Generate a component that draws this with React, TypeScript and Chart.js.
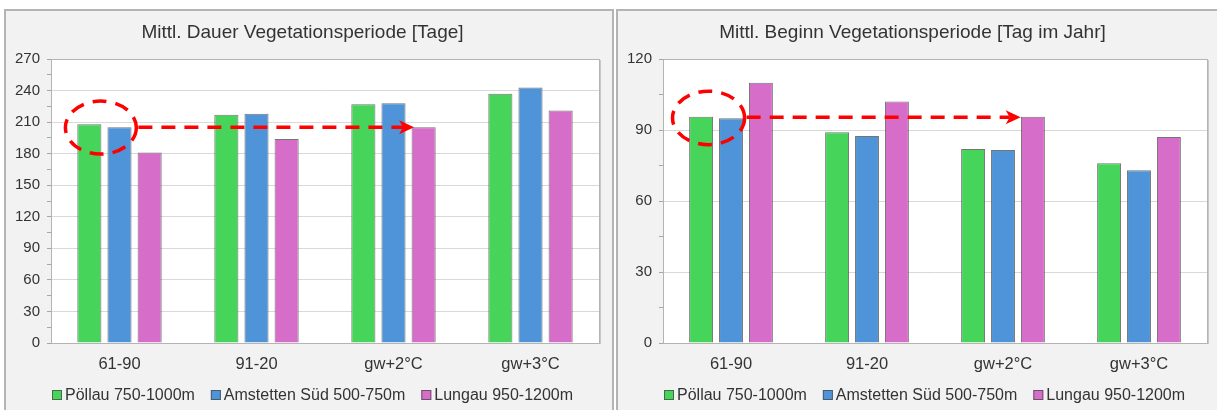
import React, { useEffect, useRef } from "react";
import { Chart, registerables } from "chart.js";

Chart.register(...registerables);

const FONT = "'Liberation Sans', Arial, sans-serif";

const categories = ["61-90", "91-20", "gw+2°C", "gw+3°C"];
const seriesNames = ["Pöllau 750-1000m", "Amstetten Süd 500-750m", "Lungau 950-1200m"];
const seriesColors = ["#47d45a", "#4f94d8", "#d66dc9"];

const dauerPoellau = [208, 217, 227, 237];
const dauerAmstetten = [205, 218, 228, 243];
const dauerLungau = [181, 194, 205, 221];
const dauerAxis = [0, 270, 30];

const beginnPoellau = [95.6, 89, 82, 76];
const beginnAmstetten = [95, 87.5, 81.5, 73];
const beginnLungau = [110, 102, 95.6, 87];
const beginnAxis = [0, 120, 30];

// marker annotations: ellipse [categoryOffset, value, radiusCategories, radiusValue]
const dauerEllipse = [-0.136, 204.8, 0.259, 25.2];
// arrow [fromCategory, toCategory, value]
const dauerArrow = [0.138, 2.15, 205];
const beginnEllipse = [-0.165, 95.1, 0.265, 11.3];
const beginnArrow = [0.115, 2.13, 95.4];

const BORDER = "rgba(70,70,70,0.75)";

const plotBgPlugin = {
  id: "plotBg",
  beforeDraw(chart: any) {
    const { ctx, chartArea: a } = chart;
    ctx.save();
    ctx.fillStyle = "#ffffff";
    ctx.fillRect(a.left, a.top, a.right - a.left, a.bottom - a.top);
    ctx.restore();
  },
  afterDatasetsDraw(chart: any) {
    const { ctx, chartArea: a } = chart;
    ctx.save();
    ctx.strokeStyle = "#b4b4b4";
    ctx.lineWidth = 1;
    ctx.strokeRect(Math.round(a.left) + 0.5, Math.round(a.top) + 0.5, Math.round(a.right - a.left), Math.round(a.bottom - a.top));
    ctx.strokeStyle = "#c8c8c8";
    ctx.beginPath();
    ctx.moveTo(Math.round(a.right) + 1.5, a.top + 1);
    ctx.lineTo(Math.round(a.right) + 1.5, a.bottom + 1);
    ctx.stroke();
    ctx.restore();
  },
};

const legendPlugin = {
  id: "boxLegend",
  afterDraw(chart: any) {
    const { ctx } = chart;
    ctx.save();
    ctx.font = `16px ${FONT}`;
    const items = chart.data.datasets.map((d: any) => ({
      text: d.label as string,
      color: d.backgroundColor as string,
      w: ctx.measureText(d.label).width,
    }));
    const box = 10;
    const gap = 3;
    const sep = 16;
    const total =
      items.reduce((s: number, it: any) => s + box + gap + it.w, 0) + sep * (items.length - 1);
    let x = Math.round(chart.width / 2 + 4 - total / 2);
    const y = chart.height - 16;
    ctx.textBaseline = "middle";
    ctx.textAlign = "left";
    items.forEach((it: any) => {
      ctx.fillStyle = it.color;
      ctx.fillRect(x, Math.round(y - box / 2), box, box);
      ctx.strokeStyle = BORDER;
      ctx.lineWidth = 1;
      ctx.strokeRect(x + 0.5, Math.round(y - box / 2) + 0.5, box - 1, box - 1);
      ctx.fillStyle = "#333333";
      ctx.fillText(it.text, x + box + gap, y + 1);
      x += box + gap + it.w + sep;
    });
    ctx.restore();
  },
};

function makeMarkerPlugin(ellipse: number[], arrow: number[]) {
  return {
    id: "marker",
    afterDatasetsDraw(chart: any) {
      const { ctx } = chart;
      const x = chart.scales.x;
      const y = chart.scales.y;
      const x0 = x.getPixelForValue(0);
      const cw = x.getPixelForValue(1) - x0;
      const px = (c: number) => x0 + c * cw;
      ctx.save();
      ctx.strokeStyle = "#ff0000";
      ctx.fillStyle = "#ff0000";
      ctx.lineWidth = 3.5;
      ctx.setLineDash([14, 9]);
      ctx.beginPath();
      ctx.ellipse(
        px(ellipse[0]),
        y.getPixelForValue(ellipse[1]),
        ellipse[2] * cw,
        Math.abs(y.getPixelForValue(0) - y.getPixelForValue(ellipse[3])),
        0,
        0,
        Math.PI * 2
      );
      ctx.stroke();
      const ay = y.getPixelForValue(arrow[2]);
      const x1 = px(arrow[0]);
      const x2 = px(arrow[1]);
      ctx.beginPath();
      ctx.moveTo(x1, ay);
      ctx.lineTo(x2 - 11, ay);
      ctx.stroke();
      ctx.setLineDash([]);
      ctx.beginPath();
      ctx.moveTo(x2, ay);
      ctx.lineTo(x2 - 15, ay - 7);
      ctx.lineTo(x2 - 11, ay);
      ctx.lineTo(x2 - 15, ay + 7);
      ctx.closePath();
      ctx.fill();
      ctx.restore();
    },
  };
}

function BarPanel(props: {
  title: string;
  series: number[][];
  axis: number[];
  ellipse: number[];
  arrow: number[];
  left: number;
  padRight: number;
}) {
  const ref = useRef<HTMLCanvasElement | null>(null);
  useEffect(() => {
    if (!ref.current) return;
    const chart = new Chart(ref.current, {
      type: "bar",
      data: {
        labels: categories,
        datasets: props.series.map((vals, i) => ({
          label: seriesNames[i],
          data: vals,
          backgroundColor: seriesColors[i],
          borderColor: BORDER,
          borderWidth: 1,
          barPercentage: 0.8,
          categoryPercentage: 0.66,
        })),
      },
      options: {
        responsive: false,
        animation: false,
        layout: { padding: { left: 0, right: props.padRight, top: 0, bottom: 38 } },
        plugins: {
          title: {
            display: true,
            text: props.title,
            color: "#333333",
            font: { family: FONT, size: 19, weight: "normal" },
            padding: { top: 10.6, bottom: 14.6 },
          },
          legend: { display: false },
          tooltip: { enabled: false },
        },
        scales: {
          x: {
            grid: { display: false, drawTicks: false },
            border: { display: false },
            ticks: { color: "#333333", font: { family: FONT, size: 16.5 }, padding: 11.5 },
            afterFit: (s: any) => {
              s.height = 30;
            },
          },
          y: {
            min: props.axis[0],
            max: props.axis[1],
            ticks: {
              stepSize: props.axis[2] / 2,
              autoSkip: false,
              padding: 7,
              color: "#333333",
              font: { family: FONT, size: 15 },
              callback: (v: any) => (Number(v) % props.axis[2] === 0 ? String(v) : ""),
            },
            grid: {
              color: (c: any) =>
                c.tick && c.tick.value % props.axis[2] === 0 ? "#d9d9d9" : "rgba(0,0,0,0)",
              tickColor: "#a6a6a6",
              tickLength: 4,
            },
            border: { color: "#a6a6a6" },
            afterFit: (s: any) => {
              s.width = 45;
            },
          },
        },
      } as any,
      plugins: [plotBgPlugin, legendPlugin, makeMarkerPlugin(props.ellipse, props.arrow)],
    });
    return () => chart.destroy();
  }, []);
  return (
    <div
      style={{
        position: "absolute",
        left: props.left,
        top: 9,
        width: 610,
        height: 420,
        boxSizing: "border-box",
        border: "2px solid #b4b4b4",
        background: "#f2f2f2",
      }}
    >
      <canvas ref={ref} width={606} height={400} style={{ display: "block" }} />
    </div>
  );
}

export default function App() {
  useEffect(() => {
    document.body.style.margin = "0";
  }, []);
  return (
    <div style={{ position: "relative", width: 1217, height: 410, overflow: "hidden", background: "#ffffff" }}>
      <BarPanel
        title="Mittl. Dauer Vegetationsperiode [Tage]"
        series={[dauerPoellau, dauerAmstetten, dauerLungau]}
        axis={dauerAxis}
        ellipse={dauerEllipse}
        arrow={dauerArrow}
        left={4}
        padRight={13}
      />
      <BarPanel
        title="Mittl. Beginn Vegetationsperiode [Tag im Jahr]"
        series={[beginnPoellau, beginnAmstetten, beginnLungau]}
        axis={beginnAxis}
        ellipse={beginnEllipse}
        arrow={beginnArrow}
        left={616}
        padRight={17}
      />
    </div>
  );
}
